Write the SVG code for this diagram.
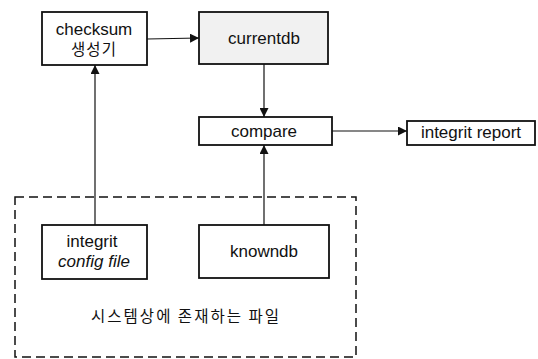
<svg xmlns="http://www.w3.org/2000/svg" width="538" height="359" viewBox="0 0 538 359">
<style>
.box{fill:#fff;stroke:#111;stroke-width:1.8}
.t{font-family:"Liberation Sans",Arial,sans-serif;font-size:17px;fill:#111;text-anchor:middle}
.k{font-family:"Noto Sans CJK KR",sans-serif;font-size:15.5px;fill:#111;text-anchor:middle}
.c{fill:none;stroke:#111;stroke-width:1.2}
</style>
<defs>
<marker id="ah" viewBox="0 0 10 10" refX="10" refY="5" markerWidth="9" markerHeight="9" markerUnits="userSpaceOnUse" orient="auto">
<path d="M0,0 L10,5 L0,10 Z" fill="#111"/>
</marker>
</defs>
<rect x="0" y="0" width="538" height="359" fill="#fff"/>
<g id="files-group">
<rect x="15" y="197" width="341" height="160" fill="none" stroke="#111" stroke-width="1.5" stroke-dasharray="9,5"/>
<text class="k" x="186" y="322" letter-spacing="2">시스템상에 존재하는 파일</text>
</g>
<g id="connectors">
<path class="c" d="M147,39 L199,38" marker-end="url(#ah)"/>
<path class="c" d="M264,64 L264,117" marker-end="url(#ah)"/>
<path class="c" d="M332,131 L407,131" marker-end="url(#ah)"/>
<path class="c" d="M95,225 L95,65" marker-end="url(#ah)"/>
<path class="c" d="M264,225 L264,145" marker-end="url(#ah)"/>
</g>
<g id="checksum">
<rect class="box" x="42" y="12" width="105" height="53"/>
<text class="t" x="94" y="35">checksum</text>
<text class="k" x="94" y="55" font-size="16" letter-spacing="1">생성기</text>
</g>
<g id="currentdb">
<rect class="box" x="199" y="12" width="129" height="52" style="fill:#f1f1f1"/>
<text class="t" x="264" y="44">currentdb</text>
</g>
<g id="compare">
<rect class="box" x="199" y="117" width="133" height="28"/>
<text class="t" x="264" y="137">compare</text>
</g>
<g id="report">
<rect class="box" x="407" y="121" width="128" height="24"/>
<text class="t" x="471" y="138">integrit report</text>
</g>
<g id="config">
<rect class="box" x="42" y="225" width="105" height="54"/>
<text class="t" x="92" y="247">integrit</text>
<text class="t" x="94" y="267" font-style="italic">config file</text>
</g>
<g id="knowndb">
<rect class="box" x="199" y="225" width="130" height="53"/>
<text class="t" x="264" y="257">knowndb</text>
</g>
</svg>
